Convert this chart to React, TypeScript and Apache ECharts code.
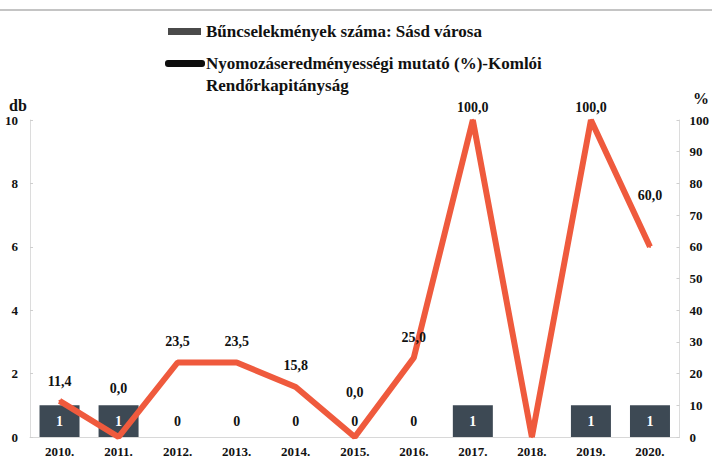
import React, { useEffect, useRef } from "react";
import * as echarts from "echarts";

const years = ["2010.", "2011.", "2012.", "2013.", "2014.", "2015.", "2016.", "2017.", "2018.", "2019.", "2020."];
const crimes = [1, 1, 0, 0, 0, 0, 0, 1, 0, 1, 1];
const rate = [11.4, 0.0, 23.5, 23.5, 15.8, 0.0, 25.0, 100.0, 0.0, 100.0, 60.0];
const barName = "Bűncselekmények száma: Sásd városa";
const lineName = "Nyomozáseredményességi mutató (%)-Komlói\nRendőrkapitányság";
const leftTicks = [0, 2, 4, 6, 8, 10];
const rightTicks = [0, 10, 20, 30, 40, 50, 60, 70, 80, 90, 100];

// label nudges (style only)
const rateLabelNudge = [-6, -36, -8, -8, -8, -32, -7, 0, 0, 0, -38];
const rateLabelHidden = [false, false, false, false, false, false, false, false, true, false, false];
const crimeLabelHidden = [false, false, false, false, false, false, false, false, true, false, false];

const FONT = "'Liberation Serif', 'Times New Roman', serif";
const BAR = "#3d4954";
const LINE = "#ef5a3d";

const fmt = (v: number) => v.toFixed(1).replace(".", ",");

export default function App() {
  const ref = useRef<HTMLDivElement>(null);
  useEffect(() => {
    if (!ref.current) return;
    const chart = echarts.init(ref.current, null, { renderer: "svg" });
    chart.setOption({
      animation: false,
      backgroundColor: "#ffffff",
      grid: { left: 30, right: 30, top: 120, bottom: 22, containLabel: false },
      xAxis: {
        type: "category",
        data: years,
        axisLine: { show: true, lineStyle: { color: "#d8d8d8", width: 1 } },
        axisTick: { show: false },
        axisLabel: {
          interval: 0,
          margin: 8,
          color: "#111",
          fontFamily: FONT,
          fontWeight: "bold",
          fontSize: 13,
        },
      },
      yAxis: [
        {
          type: "value",
          min: 0,
          max: 10,
          interval: 2,
          position: "left",
          axisLine: { show: true, lineStyle: { color: "#dcdcdc" } },
          axisTick: { show: true, inside: true, length: 3, lineStyle: { color: "#cfcfcf" } },
          splitLine: { show: false },
          axisLabel: {
            margin: 12,
            color: "#111",
            fontFamily: FONT,
            fontWeight: "bold",
            fontSize: 13,
            formatter: (v: number) => (leftTicks.includes(v) ? String(v) : ""),
          },
        },
        {
          type: "value",
          min: 0,
          max: 100,
          interval: 10,
          position: "right",
          axisLine: { show: true, lineStyle: { color: "#dcdcdc" } },
          axisTick: { show: true, inside: true, length: 3, lineStyle: { color: "#cfcfcf" } },
          splitLine: { show: false },
          axisLabel: {
            margin: 10,
            color: "#111",
            fontFamily: FONT,
            fontWeight: "bold",
            fontSize: 13,
            formatter: (v: number) => (rightTicks.includes(v) ? String(v) : ""),
          },
        },
      ],
      series: [
        {
          name: barName,
          type: "bar",
          yAxisIndex: 0,
          barWidth: 40,
          z: 2,
          itemStyle: { color: BAR },
          data: crimes.map((v, i) => ({
            value: v,
            label: {
              show: !crimeLabelHidden[i],
              position: "insideBottom",
              distance: 9,
              color: v > 0 ? "#ffffff" : "#111111",
              fontFamily: FONT,
              fontWeight: "bold",
              fontSize: 14,
              formatter: String(v),
            },
          })),
        },
        {
          name: lineName,
          type: "line",
          yAxisIndex: 1,
          z: 5,
          symbol: "circle",
          symbolSize: 2,
          showSymbol: true,
          lineStyle: { color: LINE, width: 6 },
          itemStyle: { color: LINE },
          label: {
            show: true,
            position: "top",
            distance: 5,
            color: "#111",
            fontFamily: FONT,
            fontWeight: "bold",
            fontSize: 14,
            formatter: (p: any) => fmt(p.value),
          },
          data: rate.map((v, i) => ({
            value: v,
            label: {
              show: !rateLabelHidden[i],
              offset: [0, rateLabelNudge[i]],
            },
          })),
        },
      ],
      graphic: [
        {
          type: "line",
          shape: { x1: 0, y1: 10, x2: 712, y2: 10 },
          style: { stroke: "#c4c4c4", lineWidth: 2 },
          silent: true,
        },
        {
          type: "rect",
          shape: { x: 168, y: 28, width: 33, height: 7 },
          style: { fill: "#4a4a4a" },
        },
        {
          type: "text",
          x: 206,
          y: 31,
          style: {
            text: barName,
            fill: "#111",
            font: `bold 17px ${FONT}`,
            verticalAlign: "middle",
          },
        },
        {
          type: "rect",
          shape: { x: 165, y: 60, width: 40, height: 7, r: 3 },
          style: { fill: "#0d0d0d" },
        },
        {
          type: "text",
          x: 206,
          y: 52,
          style: {
            text: lineName,
            fill: "#111",
            font: `bold 17px ${FONT}`,
            lineHeight: 22,
            verticalAlign: "top",
          },
        },
        {
          type: "text",
          x: 18,
          y: 105,
          style: {
            text: "db",
            fill: "#111",
            font: `bold 16px ${FONT}`,
            align: "center",
            verticalAlign: "middle",
          },
        },
        {
          type: "text",
          x: 701,
          y: 98,
          style: {
            text: "%",
            fill: "#111",
            font: `bold 16px ${FONT}`,
            align: "center",
            verticalAlign: "middle",
          },
        },
      ],
    });
    return () => chart.dispose();
  }, []);
  return (
    <div
      ref={ref}
      style={{ position: "fixed", left: 0, top: 0, width: 712, height: 459, background: "#fff" }}
    />
  );
}
